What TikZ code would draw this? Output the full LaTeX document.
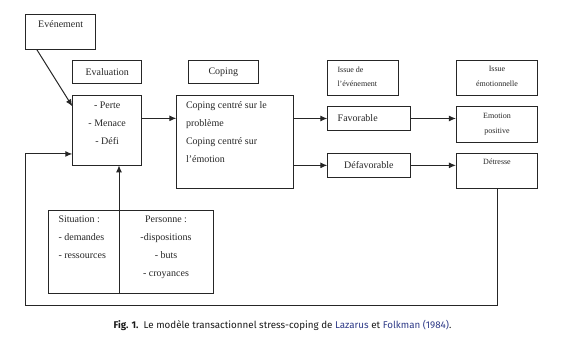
\documentclass[tikz,border=0pt]{standalone}
\usepackage{fontspec}
\setmainfont{Liberation Serif}
\newfontfamily\capfont{Fira Sans}
\usetikzlibrary{positioning,arrows.meta}
\definecolor{linkblue}{HTML}{2E3A87}

\begin{document}
\begin{tikzpicture}[
  x=1pt, y=-1pt,
  >={Latex[length=7pt,width=6pt]},
  every node/.style={align=center},
  box/.style={draw=black!85, line width=0.8pt, inner sep=0pt, text=black!85, font=\fontsize{10pt}{18pt}\selectfont},
  small/.style={box, font=\fontsize{8pt}{14.4pt}\selectfont},
  tl/.style={inner sep=0pt, text=black!85, font=\fontsize{10pt}{18pt}\selectfont},
  ts/.style={inner sep=0pt, text=black!85, font=\fontsize{8pt}{14.4pt}\selectfont},
  arr/.style={->, draw=black!85, line width=1pt}
]
\useasboundingbox (0,0) rectangle (576,347);

% --- Top row: event and column headings ---
\node[box, minimum width=70pt, minimum height=35.3pt,
  label={[tl, anchor=north, yshift=-6.5pt]north:Evénement}] (evt) at (60.7,31.7) {};
\node[box, minimum width=69pt, minimum height=23.4pt] (evalh) at (107.2,72) {Evaluation};
\node[box, minimum width=70pt, minimum height=23.4pt] (copingh) at (223.3,72) {Coping};
\node[small, minimum width=70.6pt, minimum height=35.7pt,
  label={[ts, anchor=north west, align=left, xshift=10pt, yshift=-6.8pt]north west:{Issue de\\l’événement}}] (issueh) at (363,77.85) {};
\node[small, minimum width=81.4pt, minimum height=35.7pt,
  label={[ts, anchor=north, yshift=-6.8pt]north:{Issue\\émotionnelle}}] (emoh) at (497,77.85) {};

% --- Middle row: appraisal, coping, outcomes ---
\node[box, minimum width=69pt, minimum height=69.3pt,
  label={[tl, anchor=north, yshift=-6pt]north:{- Perte\\- Menace\\- Défi}}] (eval) at (107.2,130.35) {};
\node[box, minimum width=116.6pt, minimum height=92.8pt,
  label={[tl, anchor=north west, align=left, xshift=9.5pt, yshift=-6pt]north west:{Coping centré sur le\\problème\\Coping centré sur\\l’émotion}}] (copc) at (235,142.1) {};
\node[box, minimum width=82.3pt, minimum height=23.6pt, text width=62.3pt, inner xsep=10pt, align=left] (fav) at (368.85,118.5) {Favorable};
\node[box, minimum width=82.3pt, minimum height=23.3pt] (defav) at (368.85,165.35) {Défavorable};
\node[small, minimum width=81.4pt, minimum height=35.3pt,
  label={[ts, anchor=north, yshift=-7pt]north:{Emotion\\positive}}] (emop) at (497,124.35) {};
\node[small, minimum width=81.4pt, minimum height=34.8pt,
  label={[ts, anchor=north, yshift=-5.8pt]north:Détresse}] (detr) at (497,171.1) {};

% --- Bottom: situation and person ---
\node[box, minimum width=164.6pt, minimum height=83.7pt,
  label={[tl, anchor=north west, align=left, xshift=10pt, yshift=-6pt]north west:{Situation :\\- demandes\\- ressources}},
  label={[tl, anchor=north, xshift=35pt, yshift=-6pt]north:{Personne :\\-dispositions\\- buts\\- croyances}}] (sit) at (131,251.85) {};

% --- Caption ---
\node[font=\capfont\fontsize{9.8pt}{12pt}\selectfont, text=black!90, inner sep=0pt, anchor=base] (cap) at (282.5,329)
  {\textbf{Fig. 1.}\ \ Le modèle transactionnel stress-coping de \textcolor{linkblue}{Lazarus} et \textcolor{linkblue}{Folkman (1984)}.};

% --- Arrows ---
\coordinate (sitsplit) at ([xshift=-12pt]sit.south);
\coordinate (loop) at (25.7,305.3);
\draw[arr] ([xshift=11.6pt]evt.south west) -- ([yshift=-11pt]eval.north west);
\draw[arr] ([yshift=12pt]eval.east) -- ([yshift=12pt]eval.east -| copc.west);
\draw[arr] (fav.west -| copc.east) -- (fav.west);
\draw[arr] (defav.west -| copc.east) -- (defav.west);
\draw[arr] (fav.east) -- (fav.east -| emop.west);
\draw[arr] (defav.east) -- (defav.east -| detr.west);
\draw[arr] (sitsplit) -- (sitsplit |- eval.south);
\draw[arr] (detr.south) |- (loop) |- ([yshift=-23.6pt]eval.west);

\end{tikzpicture}
\end{document}
